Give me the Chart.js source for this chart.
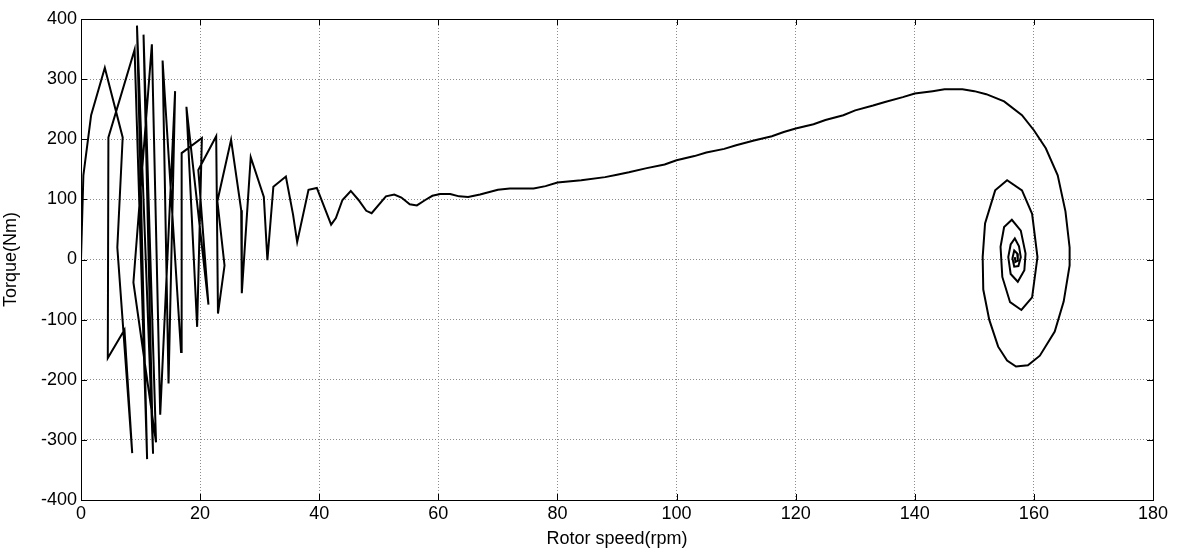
<!DOCTYPE html>
<html>
<head>
<meta charset="utf-8">
<script src="https://cdn.jsdelivr.net/npm/chart.js@4/dist/chart.umd.min.js"></script>
<style>
  html, body { margin: 0; padding: 0; background: #fff; }
  #wrap { width: 1179px; height: 552px; }
</style>
</head>
<body>
<div id="wrap"><canvas id="torqueChart" width="1179" height="552"></canvas></div>
<script>
// Rotor speed (rpm) and torque (Nm) samples
const speed = [
    0, 0.4, 1.7, 4.0, 7.0, 6.1, 8.6, 7.3, 4.5, 4.6,
    9.0, 11.1, 9.4, 12.1, 10.5, 12.6, 8.8, 11.9, 13.3, 15.8,
    14.7, 13.7, 16.8, 16.9, 20.3, 19.5, 17.7, 21.4, 19.7, 22.7,
    23.0, 24.1, 22.9, 25.2, 26.9, 27.0, 28.5, 30.7, 31.3, 32.3,
    34.4, 35.6, 36.3, 38.2, 39.6, 42.0, 42.8, 43.9, 45.3, 46.6,
    47.9, 48.8, 51.2, 52.6, 53.8, 55.2, 56.4, 57.8, 59.0, 60.3,
    62, 63.5, 65, 67, 70, 72, 76, 78, 80, 84,
    88, 90, 92, 95, 98, 100, 103, 105, 108, 110,
    113, 116, 118, 120, 123, 125, 128, 130, 133, 135,
    138, 140, 143, 145, 148, 150, 152, 155, 158, 160,
    162, 164, 165.3, 166.0, 166.0, 165.0, 163.5, 161.0, 159.0, 157.0,
    155.5, 154.0, 152.5, 151.5, 151.4, 151.8, 153.5, 155.5, 158.0, 159.7,
    160.6, 159.7, 157.9, 156.0, 154.7, 154.4, 155.0, 156.3, 157.8, 158.6,
    158.4, 157.3, 156.1, 155.7, 156.1, 156.8, 157.5, 157.8, 157.4, 156.7,
    156.4, 156.7, 157.2, 157.3, 156.9, 156.8
];
const torque = [
    0, 140, 240, 319, 203, 20, -322, -117, -164, 203,
    349, -332, 389, -323, 374, -304, -38, 358, -258, 280,
    -206, 331, -154, 177, 202, -112, 254, -75, 149, 205,
    -90, -10, 97, 199, 82, -56, 170, 104, -1, 121,
    138, 75, 29, 116, 119, 58, 69, 99, 114, 99,
    81, 77, 105, 108, 103, 92, 90, 99, 106, 109,
    109, 105, 104, 108, 116, 118, 118, 122, 128, 132,
    137, 141, 145, 152, 158, 165, 172, 178, 184, 190,
    198, 205, 212, 218, 225, 232, 240, 248, 256, 262,
    270, 276, 280, 283, 283, 280, 275, 263, 240, 215,
    185, 140, 80, 20, -10, -70, -120, -160, -176, -178,
    -168, -145, -100, -50, 4, 60, 115, 132, 115, 76,
    4, -63, -84, -71, -29, 21, 54, 66, 48, 10,
    -18, -37, -24, 4, 25, 35, 22, 4, -11, -12,
    2, 15, 10, -2, -4, 4
];
const xTicks = [0, 20, 40, 60, 80, 100, 120, 140, 160, 180];
const yTicks = [-400, -300, -200, -100, 0, 100, 200, 300, 400];

const fontFamily = '"Liberation Sans", Arial, sans-serif';

// MATLAB style frame: box plus inward tick marks on every side
const framePlugin = {
    id: 'frame',
    afterDraw(chart) {
        const ctx = chart.ctx;
        const a = chart.chartArea;
        const xs = chart.scales.x;
        const ys = chart.scales.y;
        const len = 6;
        ctx.save();
        ctx.strokeStyle = '#000';
        ctx.lineWidth = 1;
        ctx.beginPath();
        xTicks.forEach(v => {
            const px = Math.round(xs.getPixelForValue(v)) + 0.5;
            ctx.moveTo(px, a.bottom); ctx.lineTo(px, a.bottom - len);
            ctx.moveTo(px, a.top); ctx.lineTo(px, a.top + len);
        });
        yTicks.forEach(v => {
            const py = Math.round(ys.getPixelForValue(v)) + 0.5;
            ctx.moveTo(a.left, py); ctx.lineTo(a.left + len, py);
            ctx.moveTo(a.right, py); ctx.lineTo(a.right - len, py);
        });
        ctx.stroke();
        ctx.strokeRect(Math.round(a.left) + 0.5, Math.round(a.top) + 0.5,
            Math.round(a.right - a.left), Math.round(a.bottom - a.top));
        ctx.restore();
    }
};

const ctx = document.getElementById('torqueChart').getContext('2d');
new Chart(ctx, {
    type: 'scatter',
    data: {
        datasets: [{
            label: 'Torque',
            data: speed.map((s, i) => ({ x: s, y: torque[i] })),
            showLine: true,
            borderColor: '#000',
            borderWidth: 2,
            pointRadius: 0,
            tension: 0
        }]
    },
    options: {
        responsive: false,
        animation: false,
        layout: { padding: { left: 0, right: 26, top: 19, bottom: 0 } },
        plugins: {
            legend: { display: false },
            tooltip: { enabled: false }
        },
        scales: {
            x: {
                type: 'linear',
                min: 0,
                max: 180,
                afterBuildTicks: s => { s.ticks = xTicks.map(v => ({ value: v })); },
                afterFit: s => { s.height = 52; },
                ticks: {
                    color: '#000',
                    padding: 3,
                    maxRotation: 0,
                    font: { family: fontFamily, size: 18 }
                },
                grid: { color: '#8c8c8c', lineWidth: 1, drawTicks: false },
                border: { display: false, dash: [1, 2] },
                title: {
                    display: true,
                    text: 'Rotor speed(rpm)',
                    color: '#000',
                    padding: { top: 0, bottom: 2 },
                    font: { family: fontFamily, size: 18 }
                }
            },
            y: {
                type: 'linear',
                min: -400,
                max: 400,
                afterBuildTicks: s => { s.ticks = yTicks.map(v => ({ value: v })); },
                afterFit: s => { s.width = 81; },
                ticks: {
                    color: '#000',
                    padding: 4,
                    font: { family: fontFamily, size: 18 }
                },
                grid: { color: '#8c8c8c', lineWidth: 1, drawTicks: false },
                border: { display: false, dash: [1, 2] },
                title: {
                    display: true,
                    text: 'Torque(Nm)',
                    color: '#000',
                    padding: { top: 0, bottom: 7 },
                    font: { family: fontFamily, size: 18 }
                }
            }
        }
    },
    plugins: [framePlugin]
});
</script>
</body>
</html>
